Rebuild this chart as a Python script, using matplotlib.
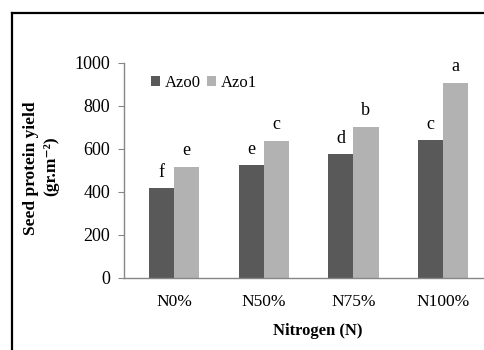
import matplotlib
matplotlib.use("Agg")
import matplotlib.pyplot as plt
from matplotlib.lines import Line2D
import numpy as np

categories = ["N0%", "N50%", "N75%", "N100%"]
azo0 = [417, 524, 574, 640]
azo1 = [515, 637, 702, 907]
letters0 = ["f", "e", "d", "c"]
letters1 = ["e", "c", "b", "a"]
yticks = [0, 200, 400, 600, 800, 1000]

plt.rcParams["font.family"] = ["Liberation Serif", "DejaVu Serif"]

W, H = 485, 350
fig = plt.figure(figsize=(W / 100, H / 100), dpi=100)
fig.patch.set_facecolor("white")

# outer frame: left and top edges
fx, fy = 12.5 / W, (H - 12.5) / H
fig.add_artist(Line2D([fx, fx], [0, fy], transform=fig.transFigure,
                      color="black", linewidth=1.6, solid_capstyle="projecting"))
fig.add_artist(Line2D([fx, 1.0], [fy, fy], transform=fig.transFigure,
                      color="black", linewidth=1.6, solid_capstyle="projecting"))

left, right = 124, 485
bottom, top = 277.7, 62.7
ax = fig.add_axes([left / W, (H - bottom) / H, (right - left) / W, (bottom - top) / H])

x = np.arange(len(categories))
bw = 0.28
c0, c1 = "#595959", "#b2b2b2"
ax.bar(x - bw / 2, azo0, bw, color=c0, label="Azo0")
ax.bar(x + bw / 2, azo1, bw, color=c1, label="Azo1")

for xi, v, t in zip(x, azo0, letters0):
    ax.text(xi - bw / 2, v + 35, t, ha="center", va="bottom", fontsize=13)
for xi, v, t in zip(x, azo1, letters1):
    ax.text(xi + bw / 2, v + 35, t, ha="center", va="bottom", fontsize=13)

ax.set_xlim(-0.557, 3.467)
ax.set_ylim(0, 1000)
ax.set_yticks(yticks)
ax.set_xticks(x)
ax.set_xticklabels(categories, fontsize=12.5)
ax.tick_params(axis="y", labelsize=13, length=4, color="#868686", pad=6)
ax.tick_params(axis="x", length=0, pad=12)
for s in ["top", "right"]:
    ax.spines[s].set_visible(False)
for s in ["left", "bottom"]:
    ax.spines[s].set_color("#868686")
    ax.spines[s].set_linewidth(1.0)

ax.legend(loc="upper left", bbox_to_anchor=(0.055, 0.975), ncol=2,
          frameon=False, fontsize=12, handlelength=0.55, handleheight=0.55,
          handletextpad=0.3, columnspacing=0.35, borderaxespad=0)

fig.text(31 / W, (H - 168) / H, "Seed protein yield",
         rotation=90, ha="center", va="center", fontsize=12.5, fontweight="bold")
fig.text(51 / W, (H - 166) / H, "(gr.m\u207b\u00b2)",
         rotation=90, ha="center", va="center", fontsize=12.5, fontweight="bold")
fig.text(318 / W, (H - 331) / H, "Nitrogen (N)", ha="center", va="center",
         fontsize=12, fontweight="bold")

fig.savefig("out.png", dpi=100, facecolor="white")
